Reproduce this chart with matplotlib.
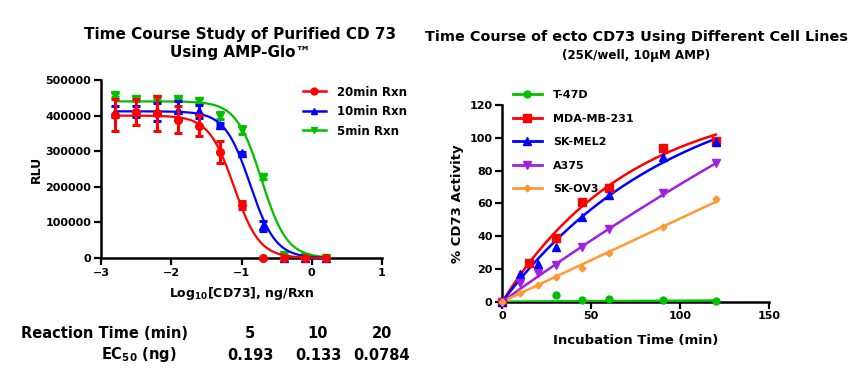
import numpy as np
import matplotlib
matplotlib.use("Agg")
import matplotlib.pyplot as plt

plt.rcParams['font.family'] = ['DejaVu Sans']
plt.rcParams['font.weight'] = 'bold'
plt.rcParams['mathtext.default'] = 'bf'

# ---------------- Left chart data ----------------
log_conc = [-2.8, -2.5, -2.2, -1.9, -1.6, -1.3, -1.0, -0.7, -0.4, -0.1, 0.2]
rlu_20 = [402000, 411000, 406000, 388000, 372000, 298000, 149000, 0, 0, 0, 0]
err_20 = [45000, 37000, 50000, 38000, 30000, 32000, 10000, 0, 0, 0, 0]
rlu_10 = [411000, 411000, 411000, 415000, 412000, 375000, 294000, 90000, 0, 0, 0]
err_10 = [15000, 15000, 25000, 25000, 18000, 5000, 5000, 15000, 0, 0, 0]
rlu_5 = [458000, 446000, 448000, 448000, 442000, 400000, 360000, 227000, 8000, 2000, 0]
err_5 = [5000, 5000, 5000, 5000, 8000, 10000, 12000, 5000, 3000, 0, 0]
left_labels = ["20min Rxn", "10min Rxn", "5min Rxn"]
# fit parameters (top, EC50, hill slope)
fit_top = [400000, 412000, 440000]
ec50 = [0.0784, 0.133, 0.193]
hill = 2.4

reaction_times = ["5", "10", "20"]
ec50_text = ["0.193", "0.133", "0.0784"]

# ---------------- Right chart data ----------------
t_std = [0, 10, 20, 30, 45, 60, 90, 120]
t_red = [0, 15, 30, 45, 60, 90, 120]
t_green = [0, 30, 45, 60, 90, 120]
act_t47d = [0, 4.1, 0.8, 1.8, 0.8, 0.2]
act_mda = [0, 23.8, 38.7, 61.0, 69.5, 94.0, 98.2]
act_skmel2 = [0, 16.9, 23.0, 33.6, 51.8, 65.1, 88.1, 97.2]
act_a375 = [0, 11.2, 17.7, 22.6, 33.6, 44.5, 66.3, 84.4]
act_skov3 = [0, 5.1, 10.2, 14.8, 20.3, 29.5, 45.4, 62.8]
right_labels = ["T-47D", "MDA-MB-231", "SK-MEL2", "A375", "SK-OV3"]
# fit params: one-phase association Ymax, k ; linear slopes
fit_mda = (126.0, 0.0138)
fit_skmel2 = (140.0, 0.01033)
fit_a375 = (435.0, 0.0018)
slope_skov3 = 0.508
slope_t47d = 0.006

c_red = '#ff0000'
c_blue = '#0000ff'
c_green = '#00c000'
c_purple = '#a020e0'
c_orange = '#ff9933'

fig = plt.figure(figsize=(8.65, 3.85), dpi=100)

# ---------------- Left axes ----------------
axL = fig.add_axes([101/865, 1-258/385, (382-101)/865, (258-80)/385])
xfit = np.linspace(-2.8, 0.2, 300)
series = [(rlu_20, err_20, c_red, 'o', 5.5), (rlu_10, err_10, c_blue, '^', 6), (rlu_5, err_5, c_green, 'v', 6)]
handles = []
for i, (y, e, c, m, ms) in enumerate(series):
    z = 5 - i
    curve = fit_top[i] / (1 + 10 ** ((xfit - np.log10(ec50[i])) * hill))
    axL.plot(xfit, curve, color=c, lw=1.6, zorder=z, clip_on=False)
    axL.errorbar(log_conc, y, yerr=e, fmt=m, color=c, ms=ms, elinewidth=2.2,
                 capsize=3, capthick=2.2, zorder=z + 0.5, clip_on=False)
    h, = axL.plot([], [], color=c, marker=m, ms=5, lw=1.8)
    handles.append(h)
axL.set_xlim(-3, 1)
axL.set_ylim(0, 500000)
axL.set_xticks([-3, -2, -1, 0, 1])
axL.set_yticks([0, 100000, 200000, 300000, 400000, 500000])
axL.set_yticklabels(['0', '100000', '200000', '300000', '400000', '500000'])
for s in ['top', 'right']:
    axL.spines[s].set_visible(False)
for s in ['left', 'bottom']:
    axL.spines[s].set_linewidth(1.8)
axL.tick_params(width=1.6, length=5, labelsize=8, pad=2)
for lab in axL.get_xticklabels() + axL.get_yticklabels():
    lab.set_fontweight('bold')
axL.set_xlabel('Log$_{10}$[CD73], ng/Rxn', fontsize=9, fontweight='bold', labelpad=5)
axL.set_ylabel('RLU', fontsize=9, fontweight='bold', labelpad=2)
fig.legend(handles, left_labels, loc='upper left', bbox_to_anchor=(292/865, 1-75/385),
           frameon=False, handlelength=2.0, labelspacing=0.55,
           handletextpad=0.9, prop={'weight': 'bold', 'size': 8.5})

fig.text(240/865, 1-35/385, 'Time Course Study of Purified CD 73', ha='center', va='center',
         fontsize=11, fontweight='bold')
fig.text(240/865, 1-53/385, 'Using AMP-Glo™', ha='center', va='center',
         fontsize=11, fontweight='bold')

# table
fig.text(21/865, 1-334/385, 'Reaction Time (min)', ha='left', va='center', fontsize=10.5, fontweight='bold')
fig.text(177/865, 1-355/385, 'EC$_{50}$ (ng)', ha='right', va='center', fontsize=10.5, fontweight='bold')
for xp, rt, ec in zip([250, 318, 382], reaction_times, ec50_text):
    fig.text(xp/865, 1-334/385, rt, ha='center', va='center', fontsize=10.5, fontweight='bold')
    fig.text(xp/865, 1-355/385, ec, ha='center', va='center', fontsize=10.5, fontweight='bold')

# ---------------- Right axes ----------------
axR = fig.add_axes([502.3/865, 1-301.7/385, (769.3-502.3)/865, (301.7-105)/385])
tf = np.linspace(0, 120, 300)
rh = []
# T-47D
axR.plot(tf, slope_t47d * tf, color=c_green, lw=1.8, zorder=3)
axR.plot(t_green, act_t47d, 'o', color=c_green, ms=5, zorder=4, clip_on=False)
rh.append(axR.plot([], [], color=c_green, marker='o', ms=5, lw=2)[0])
# MDA
axR.plot(tf, fit_mda[0] * (1 - np.exp(-fit_mda[1] * tf)), color=c_red, lw=1.8, zorder=5)
axR.plot(t_red, act_mda, 's', color=c_red, ms=5.5, zorder=6, clip_on=False)
rh.append(axR.plot([], [], color=c_red, marker='s', ms=5.5, lw=2)[0])
# SK-MEL2
axR.plot(tf, fit_skmel2[0] * (1 - np.exp(-fit_skmel2[1] * tf)), color=c_blue, lw=1.8, zorder=5)
axR.plot(t_std, act_skmel2, '^', color=c_blue, ms=5.5, zorder=6, clip_on=False)
rh.append(axR.plot([], [], color=c_blue, marker='^', ms=5.5, lw=2)[0])
# A375
axR.plot(tf, fit_a375[0] * (1 - np.exp(-fit_a375[1] * tf)), color=c_purple, lw=1.8, zorder=5)
axR.plot(t_std, act_a375, 'v', color=c_purple, ms=5.5, zorder=6, clip_on=False)
rh.append(axR.plot([], [], color=c_purple, marker='v', ms=5.5, lw=2)[0])
# SK-OV3
axR.plot(tf, slope_skov3 * tf, color=c_orange, lw=1.8, zorder=5)
axR.plot(t_std, act_skov3, 'D', color=c_orange, ms=3.5, zorder=6, clip_on=False)
rh.append(axR.plot([], [], color=c_orange, marker='D', ms=3.5, lw=2)[0])

axR.set_xlim(0, 150)
axR.set_ylim(0, 120)
axR.set_xticks([0, 50, 100, 150])
axR.set_yticks([0, 20, 40, 60, 80, 100, 120])
for s in ['top', 'right']:
    axR.spines[s].set_visible(False)
for s in ['left', 'bottom']:
    axR.spines[s].set_linewidth(1.8)
axR.tick_params(width=1.6, length=5, labelsize=8, pad=2)
for lab in axR.get_xticklabels() + axR.get_yticklabels():
    lab.set_fontweight('bold')
axR.set_xlabel('Incubation Time (min)', fontsize=9.5, fontweight='bold', labelpad=9)
axR.set_ylabel('% CD73 Activity', fontsize=9.5, fontweight='bold', labelpad=4)
fig.legend(rh, right_labels, loc='upper left', bbox_to_anchor=(503/865, 1-80/385),
           frameon=False, handlelength=2.6, labelspacing=1.22, handletextpad=1.0,
           prop={'weight': 'bold', 'size': 8})

fig.text(636/865, 1-37/385, 'Time Course of ecto CD73 Using Different Cell Lines', ha='center',
         va='center', fontsize=10.4, fontweight='bold')
fig.text(636/865, 1-55/385, '(25K/well, 10μM AMP)', ha='center', va='center',
         fontsize=8.6, fontweight='bold')

fig.savefig('out.png', dpi=100)
